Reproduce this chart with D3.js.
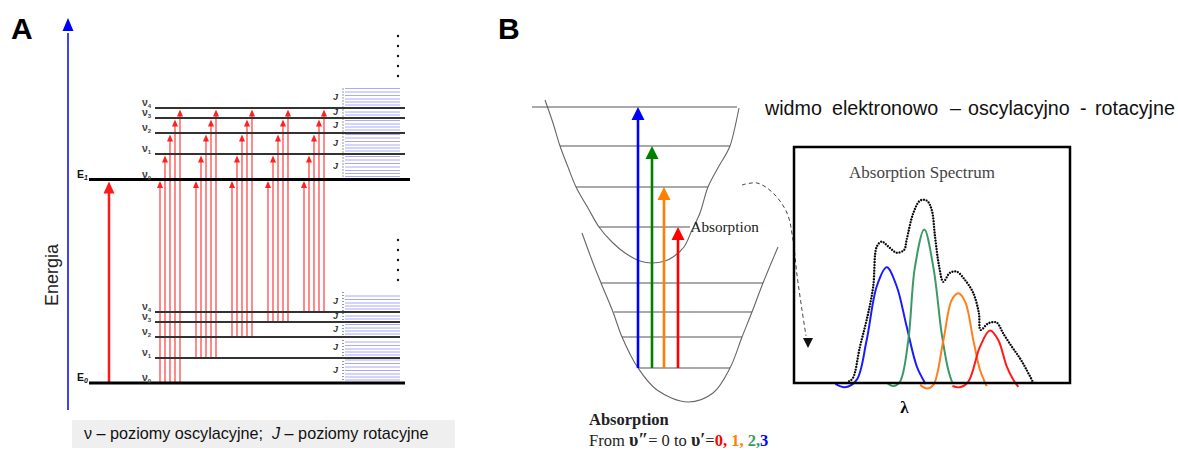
<!DOCTYPE html>
<html>
<head>
<meta charset="utf-8">
<script src="https://d3js.org/d3.v7.min.js"></script>
<style>
  body { margin: 0; background: #fff; }
  svg { display: block; font-family: "Liberation Sans", Arial, sans-serif; }
</style>
</head>
<body>
<div id="chart"></div>
<script>
// ---- panel A data (energy in arbitrary units) ----
const lowerLevels = [0, 2.5, 4.6, 6.1, 7.1];
const upperLevels = [20.35, 22.9, 25.0, 26.5, 27.5];
const vibLabels = ["0", "1", "2", "3", "4"];
// rotational sublevels above each vibrational level
const rotOffsets = [0.3, 0.6, 0.9, 1.25, 1.6, 1.95, 2.3];
const rotTop = 2.0;
// every group starts at lower v = group and goes to upper v = target
const groups = [0, 1, 2, 3, 4];
const targets = [0, 1, 2, 3, 4];

// ---- panel B data: potential curves (r, E) ----
const upperCurve = [[1.5, 31.0], [2.3, 28.7], [3.0, 26.4], [3.8, 24.3], [4.6, 22.3], [5.8, 20.2],
    [6.9, 18.3], [8.2, 16.8], [9.5, 15.7], [11.0, 14.9], [12.2, 14.7], [13.5, 14.9], [14.3, 15.3],
    [15.4, 16.3], [16.2, 18.0], [17.0, 19.7], [17.8, 22.3], [18.9, 24.4], [20.0, 26.4], [20.9, 30.2]];
const lowerCurve = [[5.2, 17.7], [6.3, 14.7], [7.1, 12.7], [8.3, 9.8], [9.2, 7.3], [10.8, 4.2],
    [12.7, 2.0], [15.8, 0.8], [18.3, 1.7], [20.0, 4.2], [21.2, 7.3], [22.2, 9.8], [23.3, 12.7], [24.8, 16.3]];
// [E, r left, r right]
const upperVib = [[30.3, 0.2, 20.7], [26.4, 3.0, 20.0], [22.3, 4.6, 17.8], [18.3, 6.9, 16.0]];
const lowerVib = [[12.7, 7.1, 23.3], [9.8, 8.4, 22.2], [7.3, 9.2, 21.2], [4.2, 10.8, 20.0]];
const arrowR = [10.8, 12.2, 13.4, 14.8];
const arrowTo = [0, 1, 2, 3];
const arrowColors = ["#0000ff", "#008000", "#ff7f00", "#ff0000"];
const dashedPath = [[21.2, 22.5], [22.7, 22.7], [24.3, 21.7], [25.7, 19.7], [26.3, 17.0],
    [26.7, 13.5], [27.2, 10.0], [27.6, 7.4]];

// ---- panel B data: spectrum (lambda, intensity) ----
const blueBand = [[15, -0.4], [18.5, -1.8], [22.7, 1.3], [26.3, 18], [30, 41], [33.6, 49], [37.2, 41],
    [40.8, 24], [44.5, 7], [47.7, -0.4]];
const greenBand = [[33.6, 0.1], [36, -1.3], [38.4, 0.6], [41.4, 18], [43.8, 49], [47.2, 65], [50.5, 49],
    [53.5, 21], [55.9, 5.5], [57.4, -0.1]];
const orangeBand = [[45.7, -0.8], [48.1, -2.3], [50.5, -0.8], [54.1, 18], [57.1, 35], [59.5, 38], [62, 34.5],
    [65, 18], [67.4, 5.5], [69.8, -1.3]];
const redBand = [[57.4, -1.3], [60.1, -1.8], [63.2, 0.6], [67.4, 15.4], [71, 22.2], [74, 18.2],
    [77.1, 6.9], [79.5, 1.3], [81.3, -1.6]];
const envelope = [[19.7, 0.6], [21.3, 2], [23.9, 15.4], [26.6, 28.1], [28.7, 40.8], [30, 57.8], [31.8, 59.9],
    [34.2, 57.8], [37.2, 55.2], [39.9, 56.4], [40.8, 60.6], [43.2, 71.9], [45.7, 77.3], [48.1, 77.3],
    [49.9, 73.3], [51.1, 62], [52.6, 49.3], [54.1, 42.9], [56.5, 46.7], [58.9, 47.2], [62, 43.6],
    [65, 38], [67, 29.5], [67.6, 22.5], [70.4, 25.3], [73.4, 25.6], [75.8, 21], [78.9, 15.4],
    [81.9, 10.4], [84.3, 5.5], [86.7, 0.1]];
const bandColors = ["#1a1aff", "#3a9a66", "#ff7f1e", "#ff1a1a"];

// title words of panel B
const titleWords = ["widmo", "elektronowo", "–", "oscylacyjno", "-", "rotacyjne"];
const titleX = [765, 832, 950, 968, 1080, 1095];

const svg = d3.select("#chart").append("svg")
    .attr("width", 1178)
    .attr("height", 450);
svg.append("rect").attr("width", 1178).attr("height", 450).attr("fill", "#fff");

//small helper for filled triangle arrow heads (tip at x,y pointing up or down)
function head(g, x, y, w, h, color, down) {
    const s = down ? -1 : 1;
    g.append("path")
        .attr("d", `M${x},${y}L${x - w / 2},${y + s * h}L${x + w / 2},${y + s * h}Z`)
        .attr("fill", color);
}

// ================= PANEL A =================
const a = svg.append("g");
const aY = d3.scaleLinear().domain([0, 36.5]).range([383, 18]);
const gx = d3.scalePoint().domain(groups).range([160, 304]);
const jx = d3.scalePoint().domain(targets).range([0, 20]);

a.append("text").attr("x", 11).attr("y", 39)
    .style("font-size", "30px").style("font-weight", "bold").text("A");

//energy axis
a.append("line").attr("x1", 68).attr("x2", 68)
    .attr("y1", aY(-2.7)).attr("y2", aY(35))
    .attr("stroke", "#0000ff").attr("stroke-width", 1.5);
head(a, 68, aY(36.5), 11, 13, "#0000ff");
a.append("text")
    .attr("transform", `translate(58,${aY(10.8)}) rotate(-90)`)
    .attr("text-anchor", "middle")
    .style("font-size", "18px").attr("fill", "#222")
    .text("Energia");

//rotational sublevels
function rotLines(levels) {
    levels.forEach((v, k) => {
        const next = k < levels.length - 1 ? levels[k + 1] : v + rotTop + 0.1;
        rotOffsets.filter(o => v + o < next - 0.15).forEach(o => {
            a.append("line")
                .attr("x1", 345).attr("x2", 400)
                .attr("y1", aY(v + o)).attr("y2", aY(v + o))
                .attr("stroke", "#a8a8ff").attr("stroke-width", 1);
        });
        a.append("text")
            .attr("x", 333).attr("y", aY((v + (k < levels.length - 1 ? next : v + rotTop)) / 2) + 2)
            .style("font-size", "9px").style("font-weight", "bold").style("font-style", "italic")
            .attr("fill", "#333").text("J");
    });
    a.append("line").attr("x1", 343).attr("x2", 343)
        .attr("y1", aY(levels[0])).attr("y2", aY(levels[levels.length - 1] + rotTop))
        .attr("stroke", "#555").attr("stroke-width", 1.2).attr("stroke-dasharray", "1,2");
    //the dots above: more levels
    d3.range(5).forEach(k => {
        a.append("circle").attr("cx", 398)
            .attr("cy", aY(levels[levels.length - 1] + rotTop + 1.2 + k))
            .attr("r", 1.2).attr("fill", "#111");
    });
}
rotLines(upperLevels);
rotLines(lowerLevels);

//vibrational levels
function vibLines(levels, sub, xEnd) {
    levels.forEach((v, k) => {
        a.append("line")
            .attr("x1", k == 0 ? 89 : 155).attr("x2", k == 0 ? xEnd + 5 : xEnd)
            .attr("y1", aY(v)).attr("y2", aY(v))
            .attr("stroke", k == 0 ? "#000" : "#333").attr("stroke-width", k == 0 ? 3 : 2);
        const t = a.append("text").attr("x", 142).attr("y", aY(v) - 2)
            .style("font-size", "10.5px").style("font-weight", "bold").attr("fill", "#444");
        t.append("tspan").text("ν");
        t.append("tspan").attr("dy", 2).style("font-size", "6px").text(vibLabels[k]);
    });
    const e = a.append("text").attr("x", 77).attr("y", aY(levels[0]) - 2)
        .style("font-size", "10.5px").style("font-weight", "bold").attr("fill", "#111");
    e.append("tspan").text("E");
    e.append("tspan").attr("dy", 2).style("font-size", "7px").style("font-style", "italic").text(sub);
}

//transitions
groups.forEach(i => {
    targets.forEach(j => {
        const x = gx(i) + jx(j);
        const yTop = aY(upperLevels[j]) + 1.5;
        a.append("line").attr("x1", x).attr("x2", x)
            .attr("y1", aY(lowerLevels[i])).attr("y2", yTop + 5)
            .attr("stroke", "#ff3b3b").attr("stroke-width", 1.2);
        head(a, x, yTop, 6, 7, "#ff2020");
    });
});
//electronic transition
a.append("line").attr("x1", 109).attr("x2", 109)
    .attr("y1", aY(lowerLevels[0])).attr("y2", aY(upperLevels[0]) + 10)
    .attr("stroke", "#ff1a1a").attr("stroke-width", 2.5);
head(a, 109, aY(upperLevels[0]) + 2, 11, 12, "#ff1a1a");

vibLines(upperLevels, "1", 405);
vibLines(lowerLevels, "0", 400);

//caption
a.append("rect").attr("x", 72).attr("y", 420).attr("width", 383).attr("height", 28).attr("fill", "#efefef");
const capA = a.append("text").attr("x", 84).attr("y", 439)
    .style("font-size", "16.2px").attr("fill", "#111").attr("xml:space", "preserve");
capA.append("tspan").text("ν – poziomy oscylacyjne;  ");
capA.append("tspan").style("font-style", "italic").text("J");
capA.append("tspan").text(" – poziomy rotacyjne");

// ================= PANEL B =================
const b = svg.append("g");
const bX = d3.scaleLinear().domain([0, 26]).range([530, 790]);
const bY = d3.scaleLinear().domain([0, 32]).range([410, 90]);
const curveLine = d3.line().x(d => bX(d[0])).y(d => bY(d[1])).curve(d3.curveCatmullRom.alpha(0.5));
const serif = "'Liberation Serif', serif";

b.append("text").attr("x", 498).attr("y", 39)
    .style("font-size", "30px").style("font-weight", "bold").text("B");

[upperCurve, lowerCurve].forEach(c => {
    b.append("path").attr("d", curveLine(c))
        .attr("fill", "none").attr("stroke", "#666").attr("stroke-width", 1.1);
});
upperVib.concat(lowerVib).forEach(d => {
    b.append("line").attr("x1", bX(d[1])).attr("x2", bX(d[2]))
        .attr("y1", bY(d[0])).attr("y2", bY(d[0]))
        .attr("stroke", "#555").attr("stroke-width", 1.2);
});
arrowR.forEach((r, k) => {
    const tip = bY(upperVib[arrowTo[k]][0]);
    b.append("line").attr("x1", bX(r)).attr("x2", bX(r))
        .attr("y1", bY(lowerVib[3][0])).attr("y2", tip + 10)
        .attr("stroke", arrowColors[k]).attr("stroke-width", 2.6);
    head(b, bX(r), tip, 13, 13, arrowColors[k]);
});
b.append("text").attr("x", bX(upperVib[3][2]) + 0.5).attr("y", bY(upperVib[3][0]) + 5)
    .style("font-family", serif).style("font-size", "15.2px")
    .attr("fill", "#222").text("Absorption");

//dashed arrow to the spectrum
b.append("path").attr("d", curveLine(dashedPath))
    .attr("fill", "none").attr("stroke", "#444").attr("stroke-width", 1)
    .attr("stroke-dasharray", "4,3");
head(b, bX(27.8), bY(6.2), 10, 10, "#111", true);

//title
titleWords.forEach((w, k) => {
    b.append("text").attr("x", titleX[k]).attr("y", 115)
        .style("font-size", "19.7px").attr("fill", "#111").text(w);
});

//spectrum box
const sX = d3.scaleLinear().domain([0, 100]).range([794, 1070]);
const sY = d3.scaleLinear().domain([0, 100]).range([383, 147]);
const specLine = d3.line().x(d => sX(d[0])).y(d => sY(d[1])).curve(d3.curveCatmullRom.alpha(0.5));

b.append("text").attr("x", 922).attr("y", 178)
    .attr("text-anchor", "middle")
    .style("font-family", serif).style("font-size", "17px")
    .attr("fill", "#444").text("Absorption Spectrum");

[blueBand, greenBand, orangeBand, redBand].forEach((band, k) => {
    b.append("path").attr("d", specLine(band))
        .attr("fill", "none").attr("stroke", bandColors[k]).attr("stroke-width", 2);
});
b.append("path").attr("d", specLine(envelope))
    .attr("fill", "none").attr("stroke", "#555").attr("stroke-width", 0.8);
b.append("path").attr("d", specLine(envelope))
    .attr("fill", "none").attr("stroke", "#000").attr("stroke-width", 2.2)
    .attr("stroke-dasharray", "1.6,1.2");

b.append("rect").attr("x", sX(0)).attr("y", sY(100))
    .attr("width", sX(100) - sX(0)).attr("height", sY(0) - sY(100))
    .attr("fill", "none").attr("stroke", "#000").attr("stroke-width", 2.5);

b.append("text").attr("x", sX(40)).attr("y", 413).attr("text-anchor", "middle")
    .style("font-family", serif).style("font-size", "17px")
    .style("font-weight", "bold").text("λ");

//caption B
b.append("text").attr("x", 589).attr("y", 425)
    .style("font-family", serif).style("font-size", "16.5px").style("font-weight", "bold")
    .attr("fill", "#222").text("Absorption");
const capB = b.append("text").attr("x", 589).attr("y", 446)
    .style("font-family", serif).style("font-size", "16.5px").attr("fill", "#222");
capB.append("tspan").text("From ");
capB.append("tspan").style("font-weight", "bold").style("font-size", "18px").text("υ″");
capB.append("tspan").text("= 0 to ");
capB.append("tspan").style("font-weight", "bold").style("font-size", "18px").text("υ′");
capB.append("tspan").text("=");
["0, ", "1, ", "2,", "3"].forEach((s, k) => {
    capB.append("tspan").style("font-weight", "bold")
        .attr("fill", [arrowColors[3], arrowColors[2], bandColors[1], arrowColors[0]][k]).text(s);
});
</script>
</body>
</html>
